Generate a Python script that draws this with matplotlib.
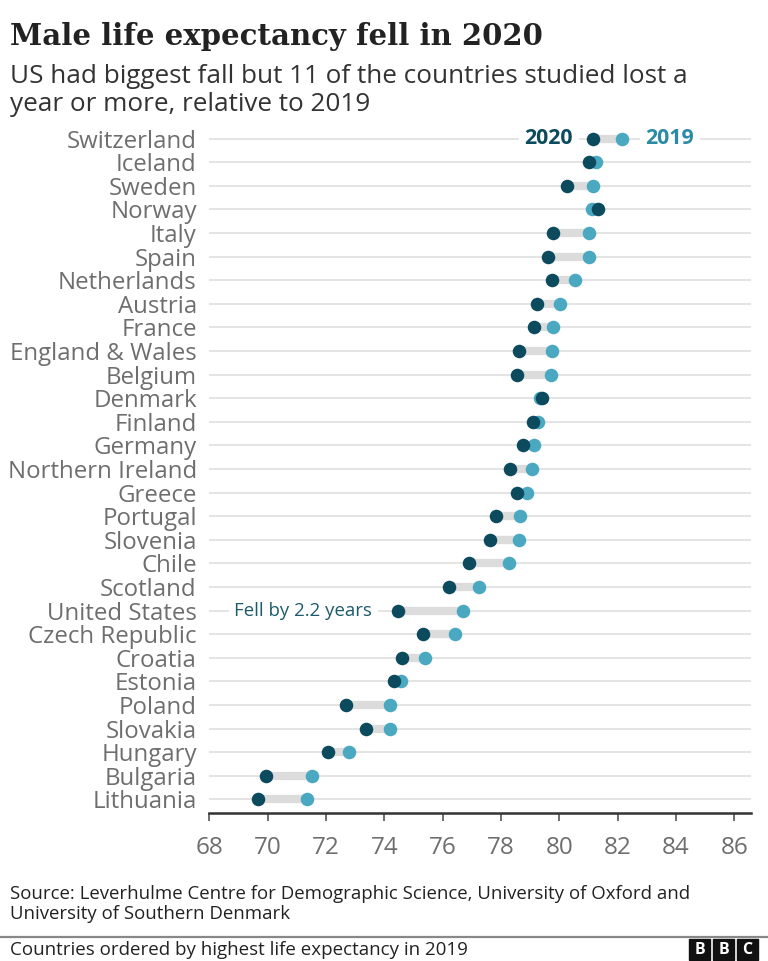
import matplotlib.pyplot as plt
from matplotlib.patches import Rectangle
from matplotlib.lines import Line2D

# data (male life expectancy, years)
countries = ["Switzerland", "Iceland", "Sweden", "Norway", "Italy", "Spain",
             "Netherlands", "Austria", "France", "England & Wales", "Belgium",
             "Denmark", "Finland", "Germany", "Northern Ireland", "Greece",
             "Portugal", "Slovenia", "Chile", "Scotland", "United States",
             "Czech Republic", "Croatia", "Estonia", "Poland", "Slovakia",
             "Hungary", "Bulgaria", "Lithuania"]
le_2019 = [82.15, 81.26, 81.15, 81.11, 81.03, 81.00, 80.55, 80.03, 79.78,
           79.76, 79.71, 79.35, 79.26, 79.12, 79.07, 78.90, 78.66, 78.60,
           78.27, 77.26, 76.71, 76.42, 75.41, 74.56, 74.18, 74.18, 72.80,
           71.53, 71.36]
le_2020 = [81.15, 81.03, 80.27, 81.31, 79.78, 79.62, 79.75, 79.23, 79.12,
           78.63, 78.56, 79.41, 79.09, 78.77, 78.32, 78.55, 77.83, 77.62,
           76.91, 76.21, 74.47, 75.32, 74.62, 74.34, 72.68, 73.36, 72.08,
           69.94, 69.68]
xticks = list(range(68, 87, 2))

dark = "#0c4a5e"
light = "#4aa8c1"
grey_txt = "#6e6e6e"

plt.rcParams['font.family'] = ['Open Sans', 'DejaVu Sans']

fig = plt.figure(figsize=(7.68, 9.61), dpi=100)
ax = fig.add_axes([0.2725, 0.1537, 0.705, 0.7144])

rows = list(range(len(countries)))
for i in rows:
    ax.axhline(i, color="#e2e2e2", lw=1.3, zorder=1)
    ax.plot([le_2020[i], le_2019[i]], [i, i], color="#dcdcdc", lw=6,
            solid_capstyle="butt", zorder=2)

ax.scatter(le_2019, rows, s=95, color=light, zorder=3, linewidths=0)
ax.scatter(le_2020, rows, s=95, color=dark, zorder=4, linewidths=0)

ax.set_xlim(68, 86.56)
ax.set_ylim(len(countries) - 1 + 0.585, -0.5)
ax.set_yticks(rows)
ax.set_yticklabels(countries, fontsize=17.3, color=grey_txt)
ax.tick_params(axis="y", length=0, pad=9)
ax.set_xticks(xticks)
ax.tick_params(axis="x", direction="out", length=6, width=1.2, color="#555555",
               labelsize=17.5, labelcolor=grey_txt, pad=10)
for side in ["top", "right", "left"]:
    ax.spines[side].set_visible(False)
ax.spines["bottom"].set_color("#333333")
ax.spines["bottom"].set_linewidth(1.8)

# legend labels on the first row
box = dict(facecolor="white", edgecolor="none", pad=4)
ax.text(80.47, 0, "2020", ha="right", va="center", fontsize=15.4,
        fontweight="bold", color=dark, bbox=box, zorder=5)
ax.text(82.95, 0, "2019", ha="left", va="center", fontsize=15.4,
        fontweight="bold", color="#2b8aa6", bbox=box, zorder=5)

# annotation for the US
ax.text(73.58, 20, "Fell by 2.2 years", ha="right", va="center", fontsize=13.4,
        color="#1c5a6c", bbox=box, zorder=5)

# titles
fig.text(0.013, 0.962, "Male life expectancy fell in 2020", fontsize=21,
         fontweight="bold", family="DejaVu Serif", color="#222222", va="center")
fig.text(0.013, 0.920, "US had biggest fall but 11 of the countries studied lost a",
         fontsize=18.8, color="#333333", va="center")
fig.text(0.013, 0.891, "year or more, relative to 2019",
         fontsize=18.8, color="#333333", va="center")

# source
fig.text(0.013, 0.0695, "Source: Leverhulme Centre for Demographic Science, University of Oxford and",
         fontsize=13.4, color="#222222", va="center")
fig.text(0.013, 0.0485, "University of Southern Denmark",
         fontsize=13.4, color="#222222", va="center")

# footer
fig.add_artist(Line2D([0, 1], [0.025, 0.025], color="#888888", lw=1.6))
fig.text(0.013, 0.0115, "Countries ordered by highest life expectancy in 2019",
         fontsize=13.5, color="#222222", va="center")
for k, letter in enumerate("BBC"):
    x0 = (689 + k * 24) / 768
    fig.add_artist(Rectangle((x0, 0.001), 21 / 768, 21 / 961,
                             color="#111111", transform=fig.transFigure))
    fig.text(x0 + 10.5 / 768, 0.001 + 10.5 / 961, letter, ha="center", va="center",
             fontsize=11.5, fontweight="bold", color="white")

fig.savefig("out.png", dpi=100)
